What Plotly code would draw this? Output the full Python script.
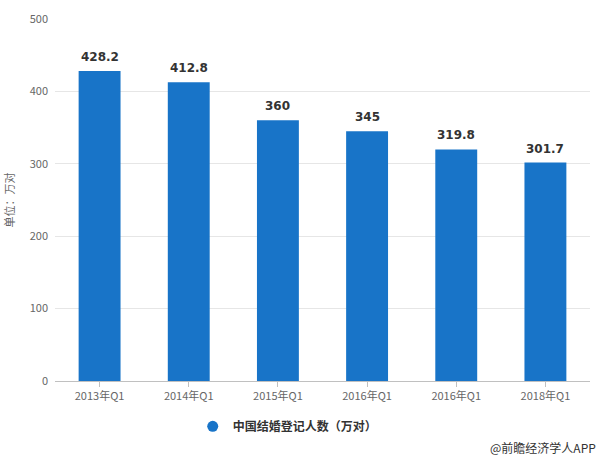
import plotly.graph_objects as go

categories = ["2013年Q1", "2014年Q1", "2015年Q1", "2016年Q1", "2016年Q1 ", "2018年Q1"]
tick_labels = ["2013年Q1", "2014年Q1", "2015年Q1", "2016年Q1", "2016年Q1", "2018年Q1"]
values = [428.2, 412.8, 360, 345, 319.8, 301.7]
value_labels = ["428.2", "412.8", "360", "345", "319.8", "301.7"]
series_name = "中国结婚登记人数（万对）"
y_ticks = [0, 100, 200, 300, 400, 500]

FONT = "Microsoft YaHei, Noto Sans CJK SC, sans-serif"
BAR_COLOR = "#1874C8"

fig = go.Figure()
fig.add_trace(go.Bar(
    x=categories, y=values, name=series_name,
    marker=dict(color=BAR_COLOR, line=dict(width=0)),
    width=0.47, showlegend=False,
))
# legend entry with circle marker
fig.add_trace(go.Scatter(
    x=[categories[0]], y=[None], mode="markers", name=series_name,
    marker=dict(color=BAR_COLOR, size=11, symbol="circle"),
    showlegend=True,
))

for c, v, t in zip(categories, values, value_labels):
    fig.add_annotation(
        x=c, y=v, text=t, showarrow=False, yanchor="bottom", yshift=5,
        font=dict(family="DejaVu Sans, sans-serif", size=12, color="#333333", weight="bold"),
    )

fig.update_layout(
    width=600, height=461,
    margin=dict(l=53, r=10, t=15, b=80),
    paper_bgcolor="white", plot_bgcolor="white",
    font=dict(family=FONT, color="#666666", size=11),
    showlegend=True,
    legend=dict(orientation="h", x=0.435, xanchor="center", y=-0.085, yanchor="top",
                font=dict(family=FONT, size=12, color="#333333", weight="bold"),
                itemwidth=30),
    xaxis=dict(
        type="category", tickmode="array", tickvals=categories, ticktext=tick_labels,
        showline=True, linecolor="#C0C0C0", linewidth=1,
        ticks="outside", ticklen=5, tickcolor="#C0C0C0",
        tickfont=dict(family=FONT, size=11, color="#666666"),
        showgrid=False,
    ),
    yaxis=dict(
        range=[0, 500], tickvals=y_ticks,
        showgrid=True, gridcolor="#E6E6E6", gridwidth=1,
        zeroline=False, showline=False,
        tickfont=dict(family=FONT, size=11, color="#666666"),
        ticklabelstandoff=6,
        title=dict(text="单位：万对", font=dict(family=FONT, size=11, color="#666666"), standoff=12),
    ),
    bargap=0.53,
)

fig.add_annotation(
    text="@前瞻经济学人APP", xref="paper", yref="paper",
    x=1.015, y=-0.185, xanchor="right", yanchor="middle", showarrow=False,
    font=dict(family=FONT, size=12, color="#333333"),
)

fig.write_html("out.html")
